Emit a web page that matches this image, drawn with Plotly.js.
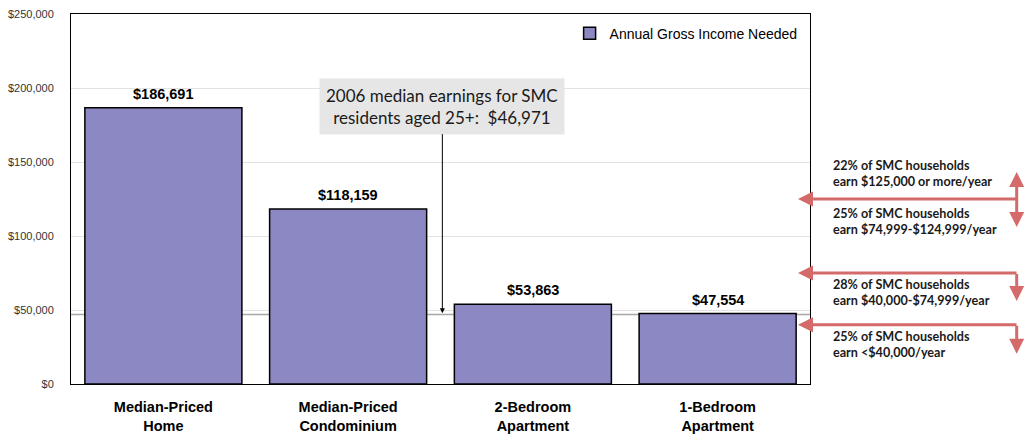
<!DOCTYPE html>
<html>
<head>
<meta charset="utf-8">
<script src="https://cdn.plot.ly/plotly-3.0.1.min.js"></script>
<style>html,body{margin:0;padding:0;background:#fff;}#chart{width:1026px;height:436px;}</style>
</head>
<body>
<div id="chart"></div>
<script>
// ---- data ----
const categories = ["Median-Priced<br>Home", "Median-Priced<br>Condominium", "2-Bedroom<br>Apartment", "1-Bedroom<br>Apartment"];
const incomeNeeded = [186691, 118159, 53863, 47554];
const seriesName = "Annual Gross Income Needed";
const medianEarnings = 46971;
const medianLabel = "2006 median earnings for SMC<br>residents aged 25+:  $46,971";
const bracketThresholds = [125000, 75000, 40000];
const bracketLabels = [
  "22% of SMC households<br>earn $125,000 or more/year",
  "25% of SMC households<br>earn $74,999-$124,999/year",
  "28% of SMC households<br>earn $40,000-$74,999/year",
  "25% of SMC households<br>earn <$40,000/year"
];
const yTickVals = [0, 50000, 100000, 150000, 200000, 250000];
const yTickText = ["$0", "$50,000", "$100,000", "$150,000", "$200,000", "$250,000"];

// ---- styles ----
const bold = "'Liberation Sans', Arial, sans-serif";
const arial = "'Liberation Sans', Arial, sans-serif";
const gill = "Lato, 'Open Sans', sans-serif";
const red = "#d46a6a";

function money(v) { return "$" + v.toLocaleString("en-US"); }

const trace = {
  type: "bar",
  x: categories,
  y: incomeNeeded,
  name: seriesName,
  marker: {color: "#8c88c3", line: {color: "#000", width: 1.5}},
  hoverinfo: "skip",
  showlegend: true
};

const annotations = [];
// value labels above the bars
categories.forEach(function (c, i) {
  annotations.push({
    xref: "x", yref: "y", x: c, y: incomeNeeded[i], yanchor: "bottom", yshift: 4,
    text: "<b>" + money(incomeNeeded[i]) + "</b>", showarrow: false,
    font: {family: bold, size: 14.5, color: "#000"}
  });
});
// median earnings box with arrow
annotations.push({
  xref: "x", yref: "y", x: 1.51, y: medianEarnings + 900,
  text: medianLabel, showarrow: true, ax: 0, ay: -207,
  arrowhead: 2, arrowsize: 1, arrowwidth: 1, arrowcolor: "#000",
  font: {family: gill, size: 17, color: "#1a1a1a"},
  bgcolor: "#e6e6e6", borderpad: 6, align: "center"
});
// horizontal red arrows pointing at the chart
bracketThresholds.forEach(function (t) {
  annotations.push({
    xref: "paper", yref: "y", x: 0.9838, y: t,
    text: " ", font: {size: 1}, showarrow: true, ax: 219, ay: 0,
    arrowhead: 2, arrowsize: 1, arrowwidth: 3, arrowcolor: red, standoff: 0, borderpad: 0
  });
});
// vertical red arrows
annotations.push({
  xref: "paper", yref: "y", x: 1.2797, y: bracketThresholds[0], yshift: -28,
  text: " ", font: {size: 1}, showarrow: true, ax: 0, ay: -56, arrowside: "end+start",
  arrowhead: 2, startarrowhead: 2, arrowsize: 1, startarrowsize: 1, arrowwidth: 3, arrowcolor: red, borderpad: 0
});
annotations.push({
  xref: "paper", yref: "y", x: 1.2797, y: bracketThresholds[1], yshift: -28,
  text: " ", font: {size: 1}, showarrow: true, ax: 0, ay: -28,
  arrowhead: 2, arrowsize: 1, arrowwidth: 3, arrowcolor: red, borderpad: 0
});
annotations.push({
  xref: "paper", yref: "y", x: 1.2797, y: bracketThresholds[2], yshift: -29,
  text: " ", font: {size: 1}, showarrow: true, ax: 0, ay: -29,
  arrowhead: 2, arrowsize: 1, arrowwidth: 3, arrowcolor: red, borderpad: 0
});
// bracket labels
const labelY = [0.569, 0.439, 0.246, 0.108];
bracketLabels.forEach(function (txt, i) {
  annotations.push({
    xref: "paper", yref: "paper", x: 1.029, y: labelY[i], xanchor: "left", yanchor: "middle",
    text: "<b>" + txt + "</b>", showarrow: false, align: "left",
    font: {family: gill, size: 12.6, color: "#1a1a1a"}
  });
});

const layout = {
  width: 1026, height: 436,
  margin: {l: 71, r: 216, t: 14, b: 52},
  paper_bgcolor: "#fff", plot_bgcolor: "#fff",
  bargap: 0.15,
  xaxis: {
    type: "category",
    showline: true, linecolor: "#000", linewidth: 1, mirror: true,
    showgrid: false, zeroline: false,
    ticks: "outside", ticklen: 10, tickcolor: "rgba(0,0,0,0)",
    tickfont: {family: bold, size: 14.5, color: "#000", weight: "bold"},
    fixedrange: true
  },
  yaxis: {
    range: [0, 250000],
    tickvals: yTickVals, ticktext: yTickText,
    showline: true, linecolor: "#000", linewidth: 1, mirror: true,
    showgrid: true, gridcolor: "#e2e2e2", gridwidth: 1, zeroline: false,
    ticks: "outside", ticklen: 14, tickcolor: "rgba(0,0,0,0)",
    tickfont: {family: arial, size: 11, color: "#333"},
    fixedrange: true
  },
  legend: {
    x: 0.99, y: 0.99, xanchor: "right", yanchor: "top",
    bgcolor: "rgba(255,255,255,0)", borderwidth: 0,
    font: {family: arial, size: 14, color: "#000"}
  },
  shapes: [{
    type: "line", xref: "paper", yref: "y", x0: 0, x1: 1, y0: medianEarnings, y1: medianEarnings,
    line: {color: "#a8a8a8", width: 1.5}, layer: "below"
  }],
  annotations: annotations,
  showlegend: true
};

Plotly.newPlot("chart", [trace], layout, {displayModeBar: false, staticPlot: true});
</script>
</body>
</html>
